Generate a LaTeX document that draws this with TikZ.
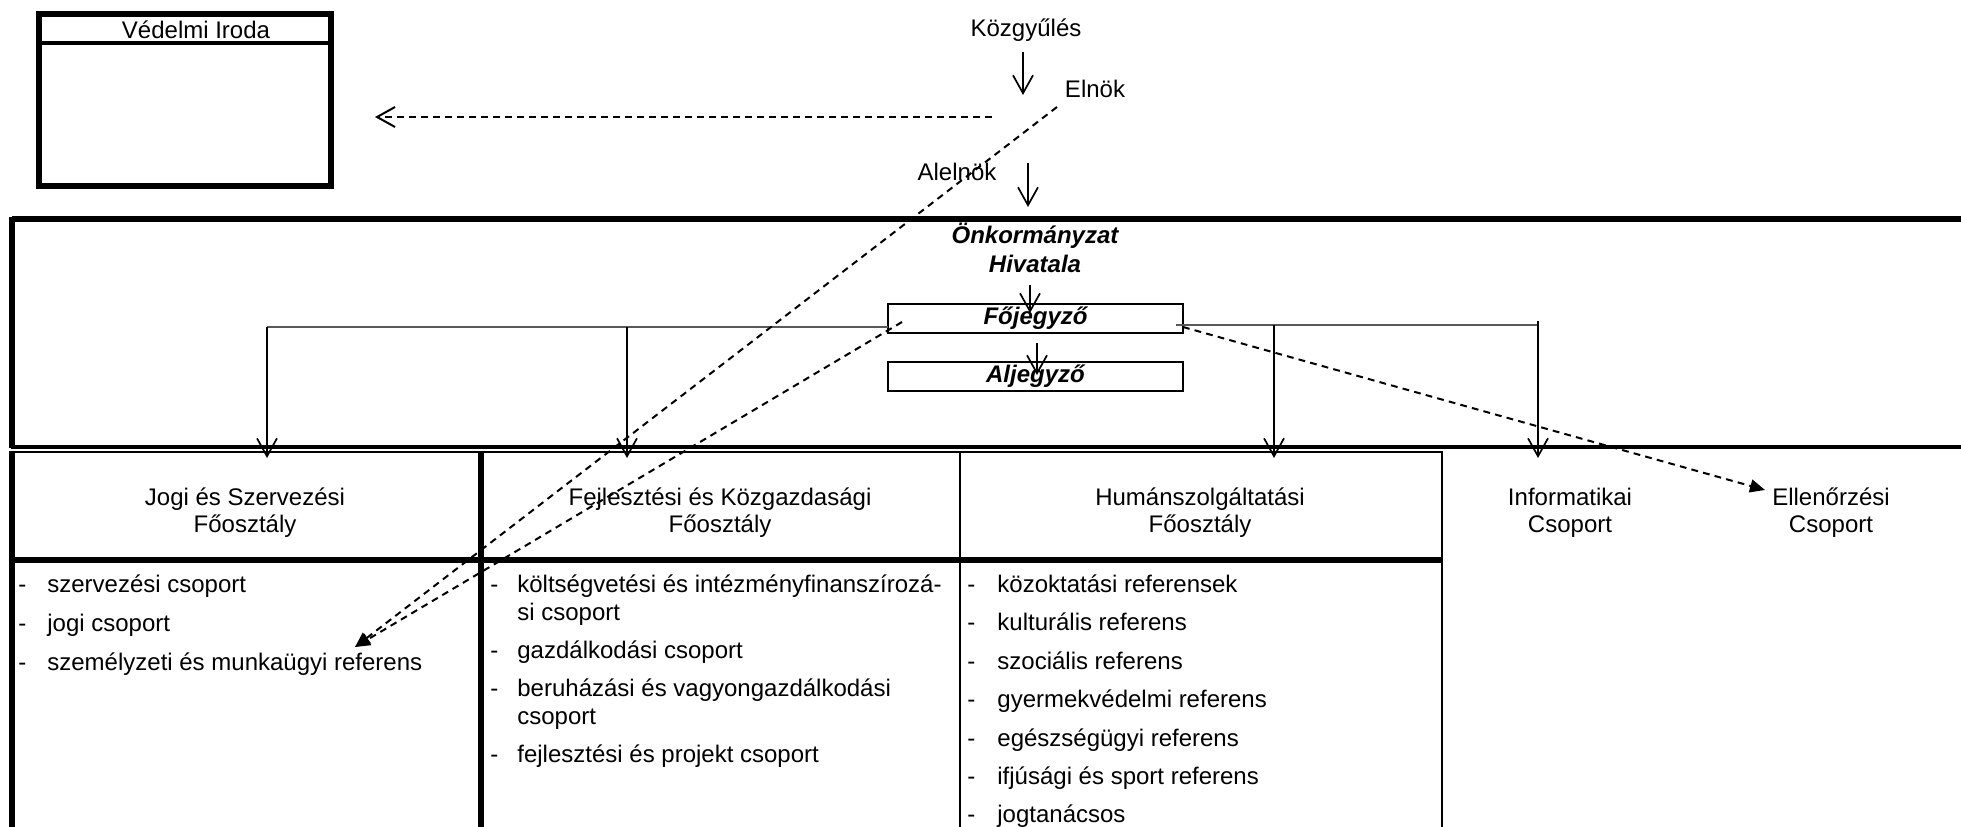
\documentclass[tikz,border=0pt]{standalone}
\usepackage{fontspec}
\setmainfont{Liberation Sans}
\usetikzlibrary{arrows.meta}
\begin{document}
\begin{tikzpicture}[x=0.5pt,y=-0.5pt,
  every node/.style={font=\fontsize{12}{13.5}\selectfont, inner sep=0pt},
  txt/.style={align=center},
  bi/.style={font=\fontsize{12}{14.5}\selectfont\bfseries\itshape, align=center},
  conn/.style={line width=0.85pt, -{Straight Barb[length=9pt,width=10pt]}},
  dashconn/.style={line width=1pt, dash pattern=on 3.4pt off 2.6pt},
  openhead/.style={-{Straight Barb[length=9pt,width=10pt]}},
  fillhead/.style={-{Triangle[length=7.5pt,width=6.5pt]}},
  item/.style={anchor=mid west},
  bus/.style={line width=1.3pt, draw=black!65},
  smallbox/.style={draw, line width=1.2pt, minimum width=147.5pt, minimum height=14.5pt},
]
\useasboundingbox (0,0) rectangle (1961,826);

% Védelmi Iroda
\draw[line width=2.8pt] (39,14) rectangle (331,186);
\draw[line width=2.4pt] (39,43) -- (331,43);
\node (vedelmi) at (196,30) {Védelmi Iroda};
\coordinate (vedR) at (375,117);

% top chain
\node (kozgy) at (1026,30) {Közgyűlés};
\node (elnok) at (1095,89) {Elnök};
\node (alelnok) at (957,172) {Alelnök};
\coordinate (k1) at (1023,52);
\coordinate (k2) at (1023,95);
\draw[conn] (k1) -- (k2);
\coordinate (a1) at (1028,163);
\coordinate (a2) at (1028,207);
\draw[conn] (a1) -- (a2);

% frame
\draw[line width=3pt] (1965,219) -- (12,219);
\draw[line width=2.6pt] (12,217) -- (12,448);
\draw[line width=1.7pt] (11,447) -- (1965,447);

\node[bi] (hiv) at (1035,248) {Önkormányzat\\Hivatala};
\node[smallbox, bi] (fo) at (1035.5,318.5) {Főjegyző};
\node[smallbox, bi] (al) at (1035.5,376.5) {Aljegyző};
\coordinate (h1) at (1030,285);
\coordinate (h2) at (1030,313);
\draw[conn] (h1) -- (h2);
\coordinate (f1) at (1037,343);
\coordinate (f2) at (1037,375);
\draw[conn] (f1) -- (f2);

% department boxes
\draw[line width=1.3pt] (10,452) -- (1442,452);
\draw[line width=2.8pt] (10,560) -- (1442,560);
\draw[line width=2.6pt] (12,451) -- (12,830);
\draw[line width=2.6pt] (481,451) -- (481,830);
\draw[line width=1.3pt] (960,451) -- (960,830);
\draw[line width=1.3pt] (1442,451) -- (1442,830);

\node[txt] (jogi) at (245,513) {Jogi és Szervezési\\Főosztály};
\node[txt] (fejl) at (720,513) {Fejlesztési és Közgazdasági\\Főosztály};
\node[txt] (human) at (1200,513) {Humánszolgáltatási\\Főosztály};
\node[txt] (info) at (1570,513) {Informatikai\\Csoport};
\node[txt] (ell) at (1831,513) {Ellenőrzési\\Csoport};

% bus and branches
\coordinate (bL) at (267,327);
\coordinate (bF) at (627,327);
\coordinate (bH) at (1274,325);
\coordinate (bI) at (1538,321);
\draw[bus] (bL) -- (888,327);
\draw[bus] (1176,325) -- (1538,325);
\coordinate (tL) at (267,458);
\coordinate (tF) at (627,458);
\coordinate (tH) at (1274,458);
\coordinate (tI) at (1538,458);
\draw[conn] (bL) -- (tL);
\draw[conn] (bF) -- (tF);
\draw[conn] (bH) -- (tH);
\draw[conn] (bI) -- (tI);

% list items
\foreach \y/\t [count=\i] in {587/szervezési csoport, 626/jogi csoport, 665/személyzeti és munkaügyi referens}{
  \node[item] (jd\i) at (18,\y) {-};
  \node[item] (jt\i) at (47,\y) {\t};
}
\foreach \y/\t [count=\i] in {587/költségvetési és intézményfinanszírozá-, 653/gazdálkodási csoport, 691/beruházási és vagyongazdálkodási, 757/fejlesztési és projekt csoport}{
  \node[item] (fd\i) at (490,\y) {-};
  \node[item] (ft\i) at (517,\y) {\t};
}
\node[item] (fc1) at (517,615) {si csoport};
\node[item] (fc2) at (517,719) {csoport};
\foreach \y/\t [count=\i] in {587/közoktatási referensek, 625/kulturális referens, 664/szociális referens, 702/gyermekvédelmi referens, 741/egészségügyi referens, 779/ifjúsági és sport referens, 817/jogtanácsos}{
  \node[item] (hd\i) at (967,\y) {-};
  \node[item] (ht\i) at (997,\y) {\t};
}

% dashed connectors
\coordinate (e1) at (992,117);
\draw[dashconn, openhead] (e1) -- (vedR);
\coordinate (e2) at (1057,107);
\coordinate (szem) at (355,647);
\draw[dashconn, fillhead] (e2) -- (szem);
\coordinate (fl) at (902,322);
\draw[dashconn, fillhead] (fl) -- (szem);
\coordinate (fr) at (1183,327);
\coordinate (ellT) at (1765,490);
\draw[dashconn, fillhead] (fr) -- (ellT);
\end{tikzpicture}
\end{document}
